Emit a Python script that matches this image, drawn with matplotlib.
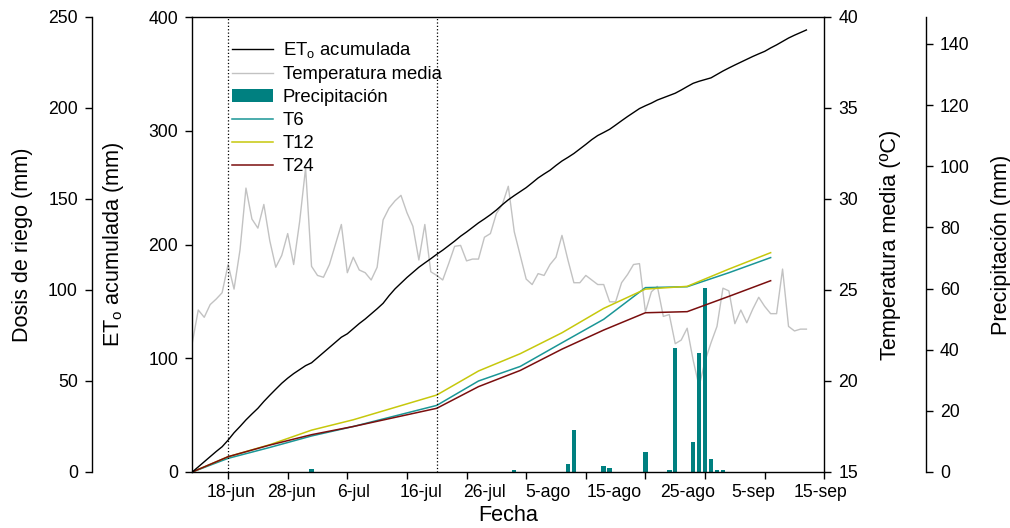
import matplotlib
matplotlib.use("Agg")
import matplotlib.pyplot as plt
import numpy as np

plt.rcParams['font.family'] = ['Liberation Sans', 'DejaVu Sans']
plt.rcParams['mathtext.fontset'] = 'custom'
plt.rcParams['mathtext.rm'] = 'Liberation Sans'
plt.rcParams['mathtext.it'] = 'Liberation Sans:italic'

# ---- data (one entry per day, day 0 = first day of the record) ----
et0_acum = [0, 4.5, 9.0, 13.5, 18.0, 22.2, 28.0, 34.5, 40.0, 45.8,
            51.0, 56.0, 62.0, 67.5, 72.8, 78.0, 82.5, 86.5, 90.0, 93.5,
            96.0, 100.5, 105.0, 109.5, 114.0, 118.5, 121.5, 126.0, 130.5, 134.5,
            139.0, 143.5, 148.3, 155.0, 161.0, 166.0, 171.0, 175.5, 180.0, 183.8,
            187.5, 191.4, 195.0, 199.0, 203.0, 207.3, 211.0, 215.0, 219.0, 222.5,
            226.2, 230.3, 235.0, 239.3, 243.0, 246.5, 250.0, 254.2, 258.5, 262.0,
            265.3, 269.5, 273.4, 276.6, 280.0, 284.0, 288.0, 292.2, 295.8, 298.5,
            301.3, 305.0, 308.8, 312.5, 316.0, 319.5, 322.0, 324.3, 327.0, 329.0,
            331.0, 333.0, 335.8, 338.8, 341.7, 343.5, 345.0, 346.5, 349.5, 352.5,
            355.2, 357.8, 360.3, 362.8, 365.3, 367.6, 369.8, 372.8, 375.5, 378.5,
            381.5, 384.0, 386.3, 388.6]

temp_media = [22.1, 23.9, 23.5, 24.2, 24.5, 24.85, 26.4, 25.05, 27.2, 30.6,
              28.9, 28.4, 29.7, 27.7, 26.25, 26.9, 28.1, 26.4, 28.75, 31.7,
              26.3, 25.8, 25.7, 26.4, 27.5, 28.6, 25.95, 26.8, 26.1, 25.95,
              25.55, 26.25, 28.85, 29.5, 29.9, 30.2, 29.25, 28.5, 26.65, 28.6,
              26.0, 25.8, 25.55, 26.45, 27.4, 27.45, 26.6, 26.7, 26.7, 27.9,
              28.1, 29.2, 29.7, 30.7, 28.2, 26.9, 25.6, 25.3, 25.9, 25.8,
              26.4, 26.8, 28.0, 26.65, 25.4, 25.4, 25.8, 25.55, 25.3, 25.3,
              24.35, 24.35, 25.4, 25.85, 26.4, 26.45, 23.8, 24.9, 25.2, 23.55,
              23.65, 22.05, 22.25, 22.9, 21.15, 19.7, 21.1, 22.1, 23.0, 25.1,
              24.95, 23.15, 23.9, 23.2, 23.95, 24.6, 24.1, 23.7, 23.7, 26.15,
              23.0, 22.75, 22.85, 22.85]

precip_days = [20, 54, 63, 64, 69, 70, 76, 80, 81, 84, 85, 86, 87, 88, 89]
precip_mm = [1.1, 0.7, 2.5, 13.7, 1.9, 1.2, 6.7, 0.8, 40.4, 9.8, 38.8, 60.3, 4.1, 0.6, 0.6]

riego_days = [0, 6, 13, 20, 27, 34, 41, 48, 55, 62, 69, 76, 83, 90, 97]
t6 = [0, 7.5, 13.5, 19.8, 25.0, 30.8, 36.6, 50.0, 58.0, 71.0, 83.9, 101.3, 101.8, 109.5, 117.8]
t12 = [0, 8.4, 15.0, 23.0, 28.7, 35.5, 42.3, 55.5, 65.0, 76.5, 89.9, 100.5, 102.0, 111.5, 120.5]
t24 = [0, 8.4, 14.8, 20.5, 25.0, 30.0, 35.0, 46.9, 55.8, 67.5, 78.0, 87.5, 88.1, 96.5, 105.1]

date_labels = ['18-jun', '28-jun', '6-jul', '16-jul', '26-jul',
               '5-ago', '15-ago', '25-ago', '5-sep', '15-sep']
label_days = [6.5, 16.6, 27.0, 38.4, 49.0, 59.7, 70.7, 83.1, 94.1, 105.3]
tick_days = [6, 16, 26, 36, 46, 56, 66, 76, 86, 96, 106]
treatment_marks = [6, 41]

days = np.arange(len(et0_acum))

# ---- figure layout ----
W, H = 1010, 528
fig = plt.figure(figsize=(W / 100, H / 100), dpi=100, facecolor='white')
x0, x1, y0, y1 = 192.3, 824.3, 472, 17
ax = fig.add_axes([x0 / W, 1 - y0 / H, (x1 - x0) / W, (y0 - y1) / H])
ax_temp = ax.twinx()
ax_prec = ax.twinx()
ax_dose = ax.twinx()

ax_temp.set_zorder(1)
ax_prec.set_zorder(2)
ax_dose.set_zorder(3)
ax.set_zorder(4)
ax.patch.set_visible(False)

FS_TICK = 12.7
FS_LEG = 13.3
FS_LAB = 15.6
LW = 1.0
tick_kw = dict(direction='out', length=4.8, width=LW, labelsize=FS_TICK, pad=5.3)

# ---- temperature ----
l_temp, = ax_temp.plot(days, temp_media, color='#c2c2c2', lw=1.0)
ax_temp.set_ylim(15, 40)
ax_temp.set_yticks(np.arange(15, 41, 5))

# ---- precipitation ----
b_prec = ax_prec.bar(precip_days, precip_mm, width=0.75, color='#008080', linewidth=0)
ax_prec.set_ylim(0, 148.8)
ax_prec.set_yticks(np.arange(0, 141, 20))

# ---- irrigation doses ----
l_t6, = ax_dose.plot(riego_days, t6, color='#1a9696', lw=1.1)
l_t12, = ax_dose.plot(riego_days, t12, color='#c6c80c', lw=1.1)
l_t24, = ax_dose.plot(riego_days, t24, color='#7a0e0e', lw=1.1)
ax_dose.set_ylim(0, 250)
ax_dose.set_yticks(np.arange(0, 251, 50))
ax_dose.yaxis.tick_left()
ax_dose.yaxis.set_label_position('left')

# ---- ETo ----
l_et, = ax.plot(days, et0_acum, color='black', lw=1.0)
ax.set_ylim(0, 400)
ax.set_yticks(np.arange(0, 401, 100))
for d in treatment_marks:
    ax.axvline(d, color='black', lw=0.9, ls=(0, (1, 1.7)), zorder=0)

# ---- x axis ----
ax.set_xlim(0, 106)
ax.set_xticks(tick_days)
ax.set_xticklabels([])
ax.set_xticks(label_days, minor=True)
ax.set_xticklabels(date_labels, minor=True)
ax.tick_params(axis='x', which='major', direction='out', length=4.8, width=LW)
ax.tick_params(axis='x', which='minor', length=0, labelsize=FS_TICK, pad=8.6)
ax.set_xlabel('Fecha', fontsize=FS_LAB)
ax.xaxis.set_label_coords(0.5, -0.072)

# ---- spines ----
for a in (ax_temp, ax_prec, ax_dose):
    for s in a.spines.values():
        s.set_visible(False)
ax.spines['right'].set_visible(False)
for s in ('left', 'top', 'bottom'):
    ax.spines[s].set_linewidth(LW)

ax_dose.spines['left'].set_visible(True)
ax_dose.spines['left'].set_position(('axes', (92 - x0) / (x1 - x0)))
ax_dose.spines['left'].set_linewidth(LW)

ax_temp.spines['right'].set_visible(True)
ax_temp.spines['right'].set_linewidth(LW)

ax_prec.spines['right'].set_visible(True)
ax_prec.spines['right'].set_position(('axes', (926 - x0) / (x1 - x0)))
ax_prec.spines['right'].set_linewidth(LW)

ax.tick_params(axis='y', **tick_kw)
ax_dose.tick_params(axis='y', **tick_kw)
ax_temp.tick_params(axis='y', **tick_kw)
ax_prec.tick_params(axis='y', **tick_kw)

# ---- axis titles ----
ax_dose.set_ylabel('Dosis de riego (mm)', fontsize=FS_LAB)
ax_dose.yaxis.set_label_coords((33 - x0) / (x1 - x0), 0.5)
ax.set_ylabel(r'ET$_\mathregular{o}$ acumulada (mm)', fontsize=FS_LAB)
ax.yaxis.set_label_coords((126 - x0) / (x1 - x0), 0.5)
ax_temp.set_ylabel('Temperatura media (ºC)', fontsize=FS_LAB)
ax_temp.yaxis.set_label_coords((880 - x0) / (x1 - x0), 0.5)
ax_prec.set_ylabel('Precipitación (mm)', fontsize=FS_LAB)
ax_prec.yaxis.set_label_coords((991 - x0) / (x1 - x0), 0.5)

# ---- legend ----
handles = [l_et, l_temp, b_prec, l_t6, l_t12, l_t24]
labels = [r'ET$_\mathregular{o}$ acumulada', 'Temperatura media', 'Precipitación',
          'T6', 'T12', 'T24']
leg = ax.legend(handles, labels, loc='upper left',
                bbox_to_anchor=((232 - x0) / (x1 - x0), (y0 - 40) / (y0 - y1)),
                frameon=False, fontsize=FS_LEG, borderpad=0, borderaxespad=0,
                handlelength=2.22, handletextpad=0.54, labelspacing=0.33)

fig.savefig('out.png', dpi=100, facecolor='white')
